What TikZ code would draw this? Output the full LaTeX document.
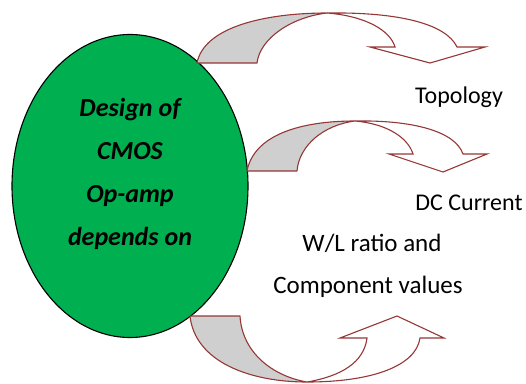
\documentclass[tikz,border=0pt]{standalone}
\usepackage{fontspec}
\setmainfont{Carlito}
\usepackage{xcolor}
\definecolor{opgreen}{HTML}{00B050}
\definecolor{rim}{HTML}{953735}
\definecolor{shade}{HTML}{CFCFCF}
\usepackage{tikz}
\usetikzlibrary{shapes.geometric}
\tikzset{
  blob/.style={ellipse, draw=black, fill=opgreen, line width=1.1pt, inner sep=0pt, minimum width=236pt, minimum height=303pt},
  blobtext/.style={font=\fontsize{26}{43}\selectfont\bfseries\itshape, align=center},
  backband/.style={draw=rim, fill=shade, line width=1.1pt, line join=round},
  frontband/.style={draw=rim, fill=white, line width=1.1pt, line join=miter},
  tag/.style={font=\fontsize{#1}{42}\selectfont, align=center, inner sep=0pt, anchor=base},
  tag/.default=24,
}

\begin{document}
\begin{tikzpicture}[x=1pt, y=-1pt]
  \useasboundingbox (0,0) rectangle (526,383);
  \node[blob] (core) at (130,186) {};
  \node[blobtext] (coretext) at (130,174) {Design of\\CMOS\\Op-amp\\depends on};
  % first curved arrow, to Topology
  \coordinate (c1) at (327,13);
  \draw[backband] (197,63) .. controls (204,27) and (265,13) .. (c1)
    .. controls (292,17) and (260,38) .. (257,63) -- cycle;
  \draw[frontband] (c1) .. controls (400,12) and (446,24) .. (457,47)
    -- (485,47) -- (430,63) -- (370,47) -- (395,47)
    .. controls (390,30) and (365,16) .. (c1) -- cycle;
  % second curved arrow, to DC Current
  \coordinate (c2) at (355,121);
  \draw[backband] (247,171) .. controls (254,135) and (300,121) .. (c2)
    .. controls (323,125) and (299,146) .. (297,171) -- cycle;
  \draw[frontband] (c2) .. controls (412,120) and (455,131) .. (463,154)
    -- (487,154) -- (443,172) -- (389,154) -- (413,154)
    .. controls (408,138) and (388,124) .. (c2) -- cycle;
  % third curved arrow, from below
  \coordinate (c3) at (307,382);
  \draw[backband] (190,316) .. controls (195,362) and (250,382) .. (c3)
    .. controls (272,376) and (242,352) .. (240,316) -- cycle;
  \draw[frontband] (c3) .. controls (372,382) and (416,366) .. (420,338)
    -- (444,338) -- (397,316) -- (340,338) -- (367,338)
    .. controls (364,362) and (342,376) .. (c3) -- cycle;
  \node[tag] (topo) at (459,103) {Topology};
  \node[tag] (dccur) at (469,210) {DC Current};
  \node[tag=25] (wlratio) at (372,251) {W/L ratio and};
  \node[tag=25] (compval) at (368,293) {Component values};
\end{tikzpicture}
\end{document}
